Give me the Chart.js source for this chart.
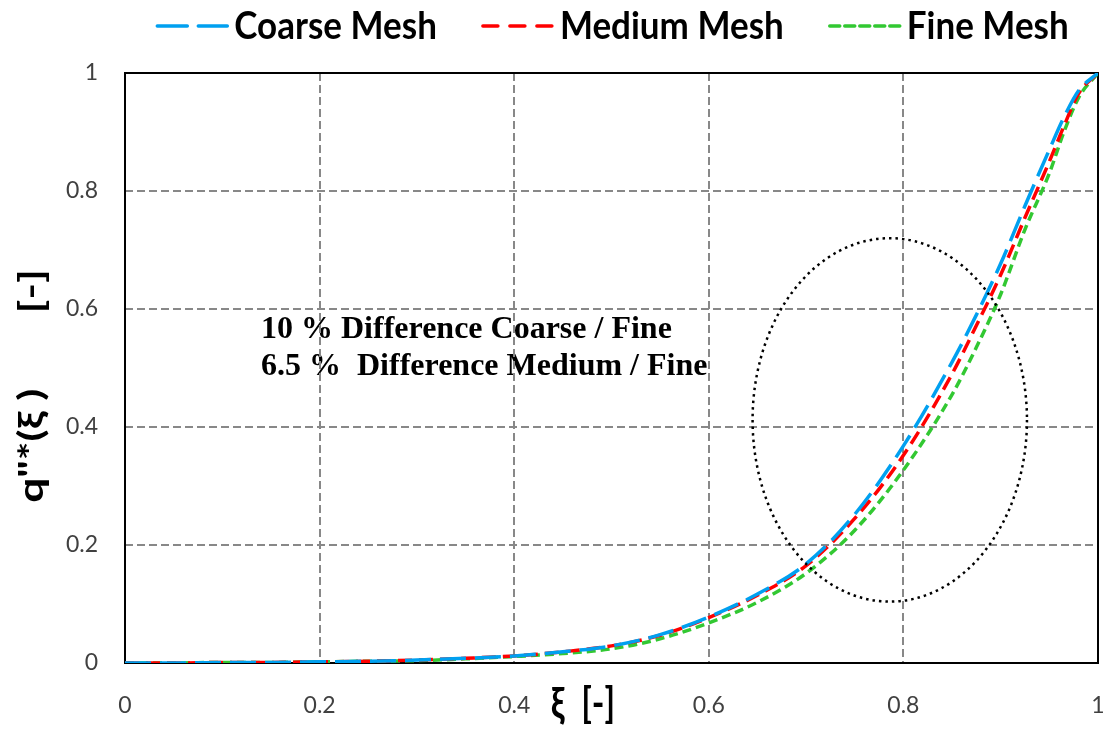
<!DOCTYPE html>
<html>
<head>
<meta charset="utf-8">
<script src="https://cdn.jsdelivr.net/npm/chart.js@4.4.0/dist/chart.umd.min.js"></script>
<style>
  html, body { margin: 0; padding: 0; background: #ffffff; overflow: hidden; }
  #wrap { width: 1109px; height: 730px; position: relative; }
</style>
</head>
<body>
<div id="wrap"><canvas id="c" width="1109" height="730"></canvas></div>
<script>
// ---- data ----
const xi = [0, 0.05, 0.1, 0.15, 0.2, 0.25, 0.3, 0.35, 0.4, 0.45, 0.5, 0.55, 0.6, 0.65, 0.7, 0.75, 0.8, 0.85, 0.875, 0.9, 0.925, 0.95, 0.965, 0.98, 1];
const coarse = [0, 0, 0.001, 0.001, 0.002, 0.003, 0.005, 0.008, 0.012, 0.019, 0.029, 0.048, 0.078, 0.117, 0.168, 0.252, 0.368, 0.51, 0.59, 0.677, 0.775, 0.87, 0.925, 0.97, 1];
const medium = [0, 0, 0.001, 0.001, 0.002, 0.003, 0.005, 0.008, 0.012, 0.019, 0.029, 0.047, 0.077, 0.115, 0.165, 0.245, 0.352, 0.49, 0.572, 0.658, 0.755, 0.85, 0.91, 0.965, 1];
const fine = [0, 0, 0.001, 0.001, 0.002, 0.003, 0.004, 0.007, 0.011, 0.016, 0.024, 0.041, 0.068, 0.103, 0.152, 0.225, 0.327, 0.455, 0.535, 0.625, 0.735, 0.83, 0.9, 0.958, 1];
const seriesNames = ['Coarse Mesh', 'Medium Mesh', 'Fine Mesh'];
const xTicks = [0, 0.2, 0.4, 0.6, 0.8, 1];
const yTicks = [0, 0.2, 0.4, 0.6, 0.8, 1];
const noteLines = ['10 % Difference Coarse / Fine', '6.5 %  Difference Medium / Fine'];
const ellipseCenter = { x: 0.786, y: 0.412 };
const ellipseRadius = { x: 0.141, y: 0.308 };
const xTitle = 'ξ  [-]';
const yTitle = 'q"*(ξ )       [-]';

const toPts = (ys) => xi.map((x, i) => ({ x: x, y: ys[i] }));

const styles = [
  { color: 'rgb(0,160,240)', dash: [26, 9], legendDash: [30, 11] },
  { color: 'rgb(255,0,0)', dash: [14, 7], legendDash: [15, 12] },
  { color: 'rgb(50,200,50)', dash: [9, 5], legendDash: [10, 5] }
];
const allSeries = [coarse, medium, fine];

const datasets = allSeries.map((s, i) => ({
  label: seriesNames[i],
  data: toPts(s),
  borderColor: styles[i].color,
  backgroundColor: styles[i].color,
  borderDash: styles[i].dash,
  borderWidth: 3.5,
  pointRadius: 0,
  cubicInterpolationMode: 'monotone',
  fill: false
}));

const TICK_FONT = { family: 'Lato, "Open Sans", sans-serif', size: 23 };

const decor = {
  id: 'decor',
  beforeDraw(chart) {
    const ctx = chart.ctx;
    ctx.save();
    ctx.fillStyle = '#000';
    ctx.font = 'bold 32px "Liberation Serif", "Times New Roman", serif';
    ctx.textAlign = 'left';
    ctx.textBaseline = 'alphabetic';
    ctx.fillText(noteLines[0], 261, 338);
    ctx.fillText(noteLines[1], 261, 375);
    ctx.restore();
  },
  beforeDatasetsDraw(chart) {
    const ctx = chart.ctx, a = chart.chartArea;
    ctx.save();
    ctx.strokeStyle = '#000';
    ctx.lineWidth = 2;
    ctx.setLineDash([]);
    ctx.strokeRect(a.left, a.top, a.right - a.left, a.bottom - a.top);
    ctx.restore();
  },
  afterDatasetsDraw(chart) {
    const ctx = chart.ctx;
    const xs = chart.scales.x, ys = chart.scales.y;
    const cx = xs.getPixelForValue(ellipseCenter.x);
    const cy = ys.getPixelForValue(ellipseCenter.y);
    const rx = xs.getPixelForValue(ellipseCenter.x + ellipseRadius.x) - cx;
    const ry = cy - ys.getPixelForValue(ellipseCenter.y + ellipseRadius.y);
    ctx.save();
    ctx.strokeStyle = '#000';
    ctx.lineWidth = 2.5;
    ctx.setLineDash([2.5, 4]);
    ctx.beginPath();
    ctx.ellipse(cx, cy, rx, ry, 0, 0, Math.PI * 2);
    ctx.stroke();
    ctx.restore();
  },
  afterDraw(chart) {
    const ctx = chart.ctx;
    ctx.save();
    // legend
    ctx.font = 'bold 35px Lato, "Open Sans", sans-serif';
    ctx.textBaseline = 'middle';
    ctx.textAlign = 'left';
    const sampleW = 72, gapT = 5, gapItem = 46;
    const widths = seriesNames.map(n => sampleW + gapT + ctx.measureText(n).width);
    const total = widths.reduce((p, c) => p + c, 0) + gapItem * (widths.length - 1);
    let x = 613 - total / 2;
    const ly = 26;
    chart.data.datasets.forEach((ds, i) => {
      ctx.strokeStyle = ds.borderColor;
      ctx.lineWidth = 3.5;
      ctx.lineCap = 'round';
      ctx.setLineDash(styles[i].legendDash);
      ctx.beginPath();
      ctx.moveTo(x, ly);
      ctx.lineTo(x + sampleW - 2, ly);
      ctx.stroke();
      ctx.setLineDash([]);
      ctx.fillStyle = '#000';
      ctx.save();
      ctx.translate(x + sampleW + gapT, ly + 1);
      ctx.scale(1, 1.08);
      ctx.fillText(ds.label, 0, 0);
      ctx.restore();
      x += widths[i] + gapItem;
    });
    // x title
    ctx.font = 'bold 34px Lato, "Noto Sans", sans-serif';
    ctx.textAlign = 'center';
    ctx.textBaseline = 'alphabetic';
    ctx.fillStyle = '#000';
    ctx.save();
    ctx.translate(583, 718);
    ctx.scale(1, 1.25);
    ctx.fillText(xTitle, 0, 0);
    ctx.restore();
    // y title
    ctx.translate(32, 386);
    ctx.rotate(-Math.PI / 2);
    ctx.scale(1.3, 1);
    ctx.textBaseline = 'middle';
    ctx.fillText(yTitle, 0, 0);
    ctx.restore();
  }
};

const chart = new Chart(document.getElementById('c'), {
  type: 'line',
  data: { datasets: datasets },
  plugins: [decor],
  options: {
    responsive: false,
    animation: false,
    devicePixelRatio: 1,
    layout: { padding: { top: 73, right: 11, left: 0, bottom: 0 } },
    plugins: { legend: { display: false }, tooltip: { enabled: false } },
    scales: {
      x: {
        type: 'linear', min: 0, max: 1,
        afterBuildTicks: (s) => { s.ticks = xTicks.map(v => ({ value: v })); },
        afterFit: (s) => { s.height = 67; },
        ticks: { font: TICK_FONT, color: '#404040', padding: 0, maxRotation: 0, autoSkip: false,
                 callback: (v) => String(v) },
        grid: { color: '#888888', lineWidth: 2, drawTicks: true, tickLength: 29, tickColor: 'rgba(0,0,0,0)' },
        border: { display: false, dash: [8, 4] }
      },
      y: {
        type: 'linear', min: 0, max: 1,
        afterBuildTicks: (s) => { s.ticks = yTicks.map(v => ({ value: v })); },
        afterFit: (s) => { s.width = 125; },
        ticks: { font: TICK_FONT, color: '#404040', padding: 0, autoSkip: false,
                 callback: (v) => String(v) },
        grid: { color: '#888888', lineWidth: 2, drawTicks: true, tickLength: 27, tickColor: 'rgba(0,0,0,0)' },
        border: { display: false, dash: [8, 4] }
      }
    }
  }
});
</script>
</body>
</html>
